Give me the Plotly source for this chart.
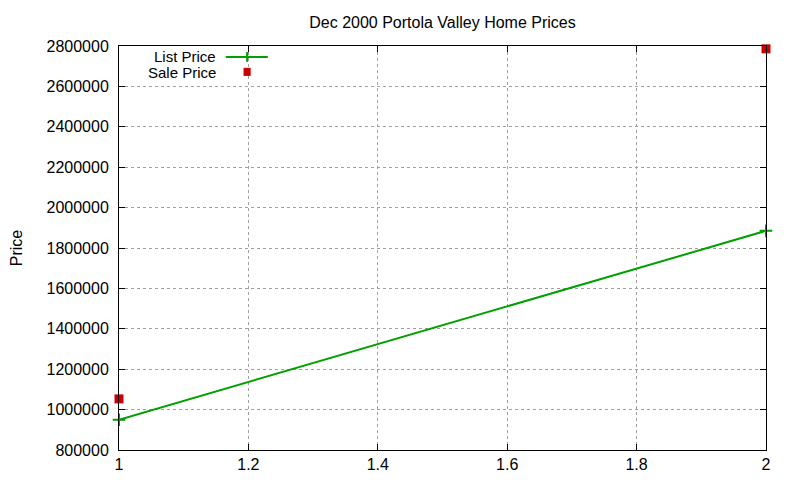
import plotly.graph_objects as go

x_vals = [1, 2]
list_price = [950000, 1885000]
sale_price = [1053000, 2786000]

title_text = "Dec 2000 Portola Valley Home Prices"
y_title = "Price"

GREEN = "#00a000"
RED = "#cc0000"
FONT = "Liberation Sans, Arial, sans-serif"

fig = go.Figure()
fig.add_trace(go.Scatter(x=x_vals, y=list_price, mode="lines+markers", name="List Price",
                         line=dict(color=GREEN, width=2), cliponaxis=False,
                         marker=dict(symbol="cross-thin", size=9, line=dict(color=GREEN, width=2))))
fig.add_trace(go.Scatter(x=x_vals, y=sale_price, mode="markers", name="Sale Price",
                         marker=dict(symbol="square", size=9, color=RED), cliponaxis=False))

axis_common = dict(showline=True, linecolor="black", linewidth=1, mirror="ticks",
                   ticks="inside", ticklen=6, tickcolor="black",
                   showgrid=True, gridcolor="#a0a0a0", griddash="dot", gridwidth=1,
                   zeroline=False, automargin=False, tickfont=dict(size=16, color="black"))

fig.update_xaxes(range=[1, 2], tick0=1, dtick=0.2, **axis_common)
fig.update_yaxes(range=[800000, 2800000], tick0=800000, dtick=200000, tickformat="d",
                 ticklabelstandoff=6,
                 title=dict(text=y_title, font=dict(size=16, color="black"), standoff=19),
                 **axis_common)

# gnuplot-style key: label right aligned, sample on the right
fig.add_annotation(x=0.153, y=0.975, xref="paper", yref="paper", text="List Price",
                   showarrow=False, xanchor="right", yanchor="middle",
                   font=dict(size=15, color="black"))
fig.add_annotation(x=0.153, y=0.934, xref="paper", yref="paper", text="Sale Price",
                   showarrow=False, xanchor="right", yanchor="middle",
                   font=dict(size=15, color="black"))
fig.add_shape(type="line", xref="paper", yref="paper", x0=0.165, x1=0.230, y0=0.973, y1=0.973,
              line=dict(color=GREEN, width=2))
fig.add_shape(type="line", xref="paper", yref="paper", x0=0.198, x1=0.198, y0=0.961, y1=0.985,
              line=dict(color=GREEN, width=2))
fig.add_shape(type="rect", xref="paper", yref="paper", x0=0.1925, x1=0.2035, y0=0.926, y1=0.946,
              line=dict(width=0), fillcolor=RED)

fig.update_layout(
    width=800, height=480,
    title=dict(text=title_text, x=0.5, xref="paper", y=1 - 14 / 480, yref="container",
               yanchor="middle", font=dict(size=16, color="black")),
    font=dict(family=FONT, color="black"),
    showlegend=False,
    plot_bgcolor="white", paper_bgcolor="white",
    margin=dict(l=111, r=42, t=38, b=38),
)

fig.write_html("out.html")
